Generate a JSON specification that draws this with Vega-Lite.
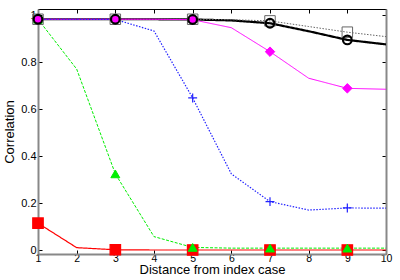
{
  "$schema": "https://vega.github.io/schema/vega-lite/v6.json",
  "width": 348,
  "height": 245,
  "autosize": {"type": "none"},
  "padding": {"left": 38, "top": 9, "right": 14, "bottom": 26},
  "config": {
    "view": {"stroke": null},
    "font": "Liberation Sans",
    "axis": {"labelFont": "Liberation Sans", "titleFont": "Liberation Sans", "labelColor": "#000", "titleColor": "#000", "grid": false, "labelFontSize": 11, "titleFontSize": 13, "titleFontWeight": "normal", "tickColor": "#000"}
  },
  "data": {"values": [
    {"series": "s1", "x": 1, "y": 0.983}, {"series": "s1", "x": 2, "y": 0.983}, {"series": "s1", "x": 3, "y": 0.983}, {"series": "s1", "x": 4, "y": 0.983}, {"series": "s1", "x": 5, "y": 0.982}, {"series": "s1", "x": 6, "y": 0.978}, {"series": "s1", "x": 7, "y": 0.966}, {"series": "s1", "x": 8, "y": 0.932}, {"series": "s1", "x": 9, "y": 0.895}, {"series": "s1", "x": 10, "y": 0.876},
    {"series": "s2", "x": 1, "y": 0.983}, {"series": "s2", "x": 2, "y": 0.983}, {"series": "s2", "x": 3, "y": 0.983}, {"series": "s2", "x": 4, "y": 0.983}, {"series": "s2", "x": 5, "y": 0.983}, {"series": "s2", "x": 6, "y": 0.981}, {"series": "s2", "x": 7, "y": 0.976}, {"series": "s2", "x": 8, "y": 0.952}, {"series": "s2", "x": 9, "y": 0.928}, {"series": "s2", "x": 10, "y": 0.909},
    {"series": "s3", "x": 1, "y": 0.983}, {"series": "s3", "x": 2, "y": 0.983}, {"series": "s3", "x": 3, "y": 0.983}, {"series": "s3", "x": 4, "y": 0.983}, {"series": "s3", "x": 5, "y": 0.981}, {"series": "s3", "x": 6, "y": 0.947}, {"series": "s3", "x": 7, "y": 0.845}, {"series": "s3", "x": 8, "y": 0.732}, {"series": "s3", "x": 9, "y": 0.689}, {"series": "s3", "x": 10, "y": 0.685},
    {"series": "s4", "x": 1, "y": 0.983}, {"series": "s4", "x": 2, "y": 0.983}, {"series": "s4", "x": 3, "y": 0.982}, {"series": "s4", "x": 4, "y": 0.933}, {"series": "s4", "x": 5, "y": 0.648}, {"series": "s4", "x": 6, "y": 0.325}, {"series": "s4", "x": 7, "y": 0.207}, {"series": "s4", "x": 8, "y": 0.171}, {"series": "s4", "x": 9, "y": 0.18}, {"series": "s4", "x": 10, "y": 0.179},
    {"series": "s5", "x": 1, "y": 0.983}, {"series": "s5", "x": 2, "y": 0.771}, {"series": "s5", "x": 3, "y": 0.325}, {"series": "s5", "x": 4, "y": 0.058}, {"series": "s5", "x": 5, "y": 0.012}, {"series": "s5", "x": 6, "y": 0.009}, {"series": "s5", "x": 7, "y": 0.009}, {"series": "s5", "x": 8, "y": 0.009}, {"series": "s5", "x": 9, "y": 0.009}, {"series": "s5", "x": 10, "y": 0.009},
    {"series": "s6", "x": 1, "y": 0.115}, {"series": "s6", "x": 2, "y": 0.011}, {"series": "s6", "x": 3, "y": 0.002}, {"series": "s6", "x": 4, "y": 0.001}, {"series": "s6", "x": 5, "y": 0.001}, {"series": "s6", "x": 6, "y": 0.001}, {"series": "s6", "x": 7, "y": 0.001}, {"series": "s6", "x": 8, "y": 0.001}, {"series": "s6", "x": 9, "y": 0.001}, {"series": "s6", "x": 10, "y": 0.001}
  ]},
  "resolve": {"axis": {"x": "independent", "y": "independent"}},
  "layer": [
    {
      "mark": {"type": "line", "clip": true},
      "encoding": {
        "x": {"field": "x", "type": "quantitative", "scale": {"domain": [1, 10], "nice": false, "zero": false},
          "axis": {"orient": "bottom", "values": [1,2,3,4,5,6,7,8,9,10], "title": "Distance from index case", "domainColor": "#888", "domainWidth": 2, "tickSize": -4, "labelPadding": 3, "labelFontSize": 10.5, "titlePadding": 0, "labelFlush": false}},
        "y": {"field": "y", "type": "quantitative", "scale": {"domain": [-0.016, 1.0266], "nice": false, "zero": false},
          "axis": {"orient": "left", "values": [0, 0.2, 0.4, 0.6, 0.8, 1], "format": ".1~f", "title": "Correlation", "domainColor": "#888", "domainWidth": 2, "tickSize": -4, "labelPadding": 6, "titlePadding": 4}},
        "detail": {"field": "series"},
        "stroke": {"field": "series", "legend": null, "scale": {"domain": ["s1","s2","s3","s4","s5","s6"], "range": ["#000000", "#666666", "#ff00ff", "#2222ff", "#00ee00", "#ff0000"]}},
        "strokeWidth": {"field": "series", "legend": null, "scale": {"type": "ordinal", "domain": ["s1","s2","s3","s4","s5","s6"], "range": [2.2, 1, 1, 1.2, 1, 1.2]}},
        "strokeDash": {"field": "series", "legend": null, "scale": {"domain": ["s1","s2","s3","s4","s5","s6"], "range": [[1,0], [1.5,1.5], [1,0], [1.5,1.5], [3,1.5], [1,0]]}}
      }
    },
    {
      "transform": [{"filter": "datum.x % 2 == 1"}],
      "mark": {"type": "point", "opacity": 1},
      "encoding": {
        "x": {"field": "x", "type": "quantitative",
          "axis": {"orient": "top", "values": [1,2,3,4,5,6,7,8,9,10], "labels": false, "title": null, "domainColor": "#000", "domainWidth": 1, "tickSize": -4}},
        "y": {"field": "y", "type": "quantitative",
          "axis": {"orient": "right", "values": [0, 0.2, 0.4, 0.6, 0.8, 1], "labels": false, "title": null, "domainColor": "#888", "domainWidth": 2, "tickSize": -4}},
        "shape": {"field": "series", "legend": null, "scale": {"domain": ["s1","s2","s3","s4","s5","s6"], "range": ["circle", "square", "diamond", "M-1,0H1M0,-1V1", "triangle-up", "square"]}},
        "stroke": {"field": "series", "legend": null, "scale": {"domain": ["s1","s2","s3","s4","s5","s6"], "range": ["#000000", "#888888", "#ff00ff", "#2222ff", "#00ee00", "#ff0000"]}},
        "fill": {"field": "series", "legend": null, "scale": {"domain": ["s1","s2","s3","s4","s5","s6"], "range": ["transparent", "transparent", "#ff00ff", "transparent", "#00ee00", "#ff0000"]}},
        "strokeWidth": {"field": "series", "legend": null, "scale": {"type": "ordinal", "domain": ["s1","s2","s3","s4","s5","s6"], "range": [2.2, 1.2, 1, 1.2, 1, 1]}},
        "size": {"field": "series", "legend": null, "scale": {"type": "ordinal", "domain": ["s1","s2","s3","s4","s5","s6"], "range": [75, 110, 90, 80, 80, 110]}},
        "order": {"field": "series", "sort": "descending"}
      }
    }
  ]
}
